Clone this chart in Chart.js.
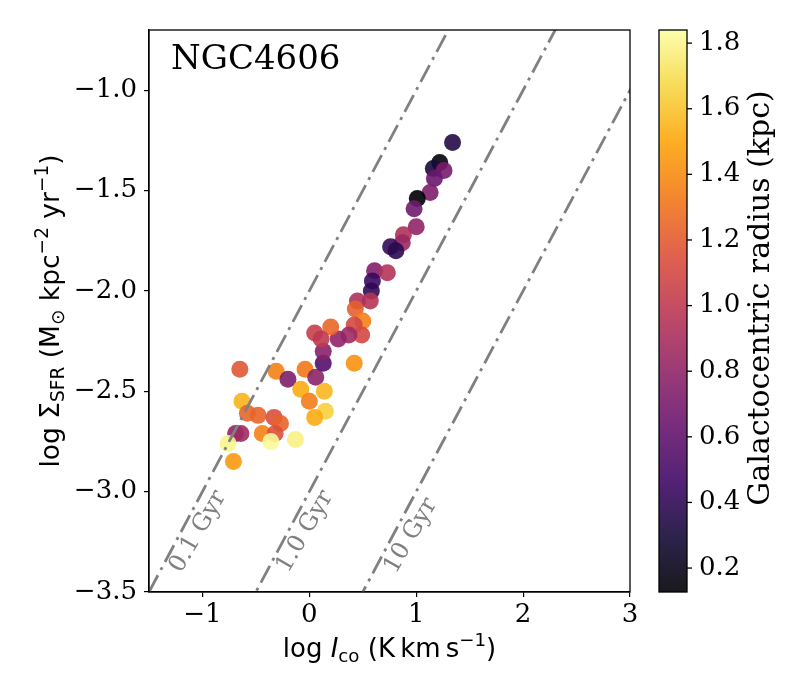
<!DOCTYPE html>
<html>
<head>
<meta charset="utf-8">
<script src="https://cdn.jsdelivr.net/npm/chart.js@4"></script>
<style>
  html, body { margin: 0; padding: 0; background: #fff; }
  #wrap { width: 800px; height: 700px; }
</style>
</head>
<body>
<div id="wrap"><canvas id="chart" width="800" height="700"></canvas></div>
<script>
// log I_CO (K km/s), log Sigma_SFR, galactocentric radius (kpc)
const logICO = [
  -0.65, -0.31, -0.20, -0.04, 0.06, 0.13, 0.13, 0.42, -0.08, 0.14,
  0.00, -0.63, 0.15, 0.05, -0.58, -0.48, -0.33, -0.27, -0.44, -0.32,
  -0.36, -0.13, -0.69, -0.64, -0.76, -0.71,
  1.00, 0.88, 0.87, 0.76, 0.81, 0.61, 0.73, 0.59, 0.58, 0.57,
  0.45, 0.43, 0.50, 0.42, 0.49, 0.37, 0.27, 0.20, 0.05, 0.11,
  1.34, 1.22, 1.16, 1.26, 1.17, 1.13, 1.01, 0.98
];
const logSigmaSFR = [
  -2.39, -2.40, -2.44, -2.39, -2.43, -2.36, -2.30, -2.36, -2.49, -2.50,
  -2.55, -2.55, -2.60, -2.63, -2.61, -2.62, -2.63, -2.66, -2.71, -2.71,
  -2.75, -2.74, -2.71, -2.71, -2.76, -2.85,
  -1.68, -1.72, -1.76, -1.78, -1.80, -1.90, -1.91, -1.95, -2.00, -2.05,
  -2.05, -2.09, -2.15, -2.17, -2.22, -2.22, -2.24, -2.18, -2.21, -2.24,
  -1.26, -1.36, -1.39, -1.40, -1.44, -1.51, -1.54, -1.59
];
const radiusKpc = [
  1.18, 1.36, 0.72, 1.32, 0.78, 0.55, 0.76, 1.42, 1.52, 1.56,
  1.34, 1.55, 1.64, 1.52, 1.25, 1.24, 1.14, 1.24, 1.36, 1.15,
  1.82, 1.78, 0.80, 0.86, 1.80, 1.45,
  0.80, 0.92, 0.84, 0.42, 0.38, 0.74, 0.95, 0.44, 0.40, 0.96,
  0.92, 1.22, 1.36, 1.10, 1.10, 0.86, 0.80, 1.25, 1.04, 1.00,
  0.35, 0.15, 0.30, 0.70, 0.64, 0.72, 0.127, 0.66
];

// constant depletion time lines: log Sigma = log I + intercept
const depletionLabels = ["0.1 Gyr", "1.0 Gyr", "10 Gyr"];
const depletionIntercepts = [-2, -3, -4];
const depletionLabelX = [-1.04, -0.04, 0.95];
const depletionLabelY = [-3.20, -3.20, -3.22];
const lineX = [-1.5, 3.5];

const xTicks = [-1, 0, 1, 2, 3];
const yTicks = [-3.5, -3.0, -2.5, -2.0, -1.5, -1.0];
const cbarTicks = [0.2, 0.4, 0.6, 0.8, 1.0, 1.2, 1.4, 1.6, 1.8];
const cbarMin = 0.127, cbarMax = 1.84;

// inferno colormap
const inferno = ["#000004", "#160b39", "#420a68", "#6a176e", "#932667", "#bc3754",
                 "#dd513a", "#f37819", "#fca50a", "#f6d746", "#fcffa4"];
const ALPHA = 0.9;

function hexRgb(h) {
  return [parseInt(h.slice(1, 3), 16), parseInt(h.slice(3, 5), 16), parseInt(h.slice(5, 7), 16)];
}
function cmap(v) {
  let t = (v - cbarMin) / (cbarMax - cbarMin);
  t = Math.max(0, Math.min(1, t));
  const p = t * (inferno.length - 1);
  const i = Math.min(Math.floor(p), inferno.length - 2);
  const f = p - i;
  const a = hexRgb(inferno[i]), b = hexRgb(inferno[i + 1]);
  const c = a.map((x, k) => Math.round(x + (b[k] - x) * f));
  return `rgba(${c[0]},${c[1]},${c[2]},${ALPHA})`;
}

const minus = s => String(s).replace("-", "\u2212");

const SERIF = "'DejaVu Serif', serif";
const SANS = "'DejaVu Sans', sans-serif";

// draws mixed-font text centred at (0,0) baseline
function drawRich(ctx, segs, size) {
  const parts = segs.map(s => {
    const sz = s.small ? size * 0.7 : size;
    const font = `${s.italic ? "italic " : ""}${sz}px ${SANS}`;
    ctx.font = font;
    return { t: s.t, font, w: ctx.measureText(s.t).width, dy: s.dy || 0 };
  });
  const total = parts.reduce((a, p) => a + p.w, 0);
  let x = -total / 2;
  ctx.textBaseline = "alphabetic";
  ctx.textAlign = "left";
  parts.forEach(p => {
    ctx.font = p.font;
    ctx.fillText(p.t, x, p.dy);
    x += p.w;
  });
}

const yLabel = [
  { t: "log " }, { t: "\u03a3" }, { t: "SFR", small: true, dy: 5 },
  { t: " (M" }, { t: "\u2299", small: true, dy: 5 }, { t: " kpc" },
  { t: "\u22122", small: true, dy: -11 }, { t: " yr" },
  { t: "\u22121", small: true, dy: -11 }, { t: ")" }
];
const xLabel = [
  { t: "log " }, { t: "I", italic: true }, { t: "co", small: true, dy: 5 },
  { t: " (K\u2009km\u2009s" }, { t: "\u22121", small: true, dy: -11 }, { t: ")" }
];

const decor = {
  id: "decor",
  afterDraw(chart) {
    const ctx = chart.ctx;
    const a = chart.chartArea;
    const xs = chart.scales.x, ys = chart.scales.y;
    ctx.save();

    // frame
    ctx.strokeStyle = "#000";
    ctx.lineWidth = 1.3;
    ctx.strokeRect(a.left, a.top, a.right - a.left, a.bottom - a.top);

    // title
    ctx.fillStyle = "#000";
    ctx.font = `34px ${SERIF}`;
    ctx.textAlign = "left";
    ctx.textBaseline = "alphabetic";
    ctx.fillText("NGC4606", 171, 69);

    // depletion labels
    ctx.fillStyle = "#808080";
    ctx.font = `24px ${SERIF}`;
    ctx.textAlign = "center";
    ctx.textBaseline = "middle";
    depletionLabels.forEach((t, i) => {
      ctx.save();
      ctx.translate(xs.getPixelForValue(depletionLabelX[i]), ys.getPixelForValue(depletionLabelY[i]));
      ctx.rotate(-60 * Math.PI / 180);
      ctx.fillText(t, 0, 0);
      ctx.restore();
    });

    // axis labels
    ctx.fillStyle = "#000";
    ctx.save();
    ctx.translate((a.left + a.right) / 2, 657);
    drawRich(ctx, xLabel, 26);
    ctx.restore();
    ctx.save();
    ctx.translate(59, (a.top + a.bottom) / 2);
    ctx.rotate(-Math.PI / 2);
    drawRich(ctx, yLabel, 26.5);
    ctx.restore();

    // colorbar
    const cx0 = 659, cx1 = 687, cy0 = a.top, cy1 = a.bottom;
    const g = ctx.createLinearGradient(0, cy1, 0, cy0);
    inferno.forEach((c, i) => {
      const rgb = hexRgb(c);
      g.addColorStop(i / (inferno.length - 1), `rgba(${rgb[0]},${rgb[1]},${rgb[2]},${ALPHA})`);
    });
    ctx.fillStyle = g;
    ctx.fillRect(cx0, cy0, cx1 - cx0, cy1 - cy0);
    ctx.strokeStyle = "#000";
    ctx.lineWidth = 1.3;
    ctx.strokeRect(cx0, cy0, cx1 - cx0, cy1 - cy0);
    const cpix = v => cy1 - (v - cbarMin) / (cbarMax - cbarMin) * (cy1 - cy0);
    ctx.fillStyle = "#000";
    ctx.font = `26px ${SERIF}`;
    ctx.textAlign = "left";
    ctx.textBaseline = "middle";
    cbarTicks.forEach(v => {
      const y = cpix(v);
      ctx.beginPath();
      ctx.moveTo(cx1, y);
      ctx.lineTo(cx1 + 5, y);
      ctx.stroke();
      ctx.fillText(v.toFixed(1), 699, y);
    });
    ctx.save();
    ctx.translate(761, 298);
    ctx.rotate(-Math.PI / 2);
    ctx.font = `30px ${SERIF}`;
    ctx.textAlign = "center";
    ctx.textBaseline = "middle";
    ctx.fillText("Galactocentric radius (kpc)", 0, 0);
    ctx.restore();

    ctx.restore();
  }
};

const lineSets = depletionIntercepts.map(b => ({
  data: lineX.map(x => ({ x: x, y: x + b })),
  showLine: true,
  borderColor: "#808080",
  borderWidth: 2.8,
  borderDash: [19, 6, 3, 6],
  pointRadius: 0,
  fill: false
}));

const points = logICO.map((x, i) => ({ x: x, y: logSigmaSFR[i] }));

new Chart(document.getElementById("chart"), {
  type: "scatter",
  data: {
    datasets: [
      ...lineSets,
      {
        data: points,
        backgroundColor: radiusKpc.map(cmap),
        borderWidth: 0,
        pointRadius: 8.5,
        pointHoverRadius: 8.5
      }
    ]
  },
  options: {
    responsive: false,
    devicePixelRatio: 1,
    animation: false,
    layout: { padding: { left: 0, right: 170, top: 30, bottom: 0 } },
    plugins: { legend: { display: false }, tooltip: { enabled: false } },
    scales: {
      x: {
        type: "linear",
        min: -1.5,
        max: 3,
        afterBuildTicks: s => { s.ticks = xTicks.map(v => ({ value: v })); },
        afterFit: s => { s.height = 108; },
        grid: { drawOnChartArea: false, tickLength: 5, color: "#000", lineWidth: 1.2 },
        border: { color: "#000", width: 1.3 },
        ticks: {
          color: "#000",
          padding: 3,
          font: { family: SERIF, size: 26 },
          callback: v => minus(v)
        }
      },
      y: {
        type: "linear",
        min: -3.5,
        max: -0.7,
        afterBuildTicks: s => { s.ticks = yTicks.map(v => ({ value: v })); },
        afterFit: s => { s.width = 149; },
        grid: { drawOnChartArea: false, tickLength: 5, color: "#000", lineWidth: 1.2 },
        border: { color: "#000", width: 1.3 },
        ticks: {
          color: "#000",
          padding: 7,
          font: { family: SERIF, size: 26 },
          callback: v => minus(Number(v).toFixed(1))
        }
      }
    }
  },
  plugins: [decor]
});
</script>
</body>
</html>
